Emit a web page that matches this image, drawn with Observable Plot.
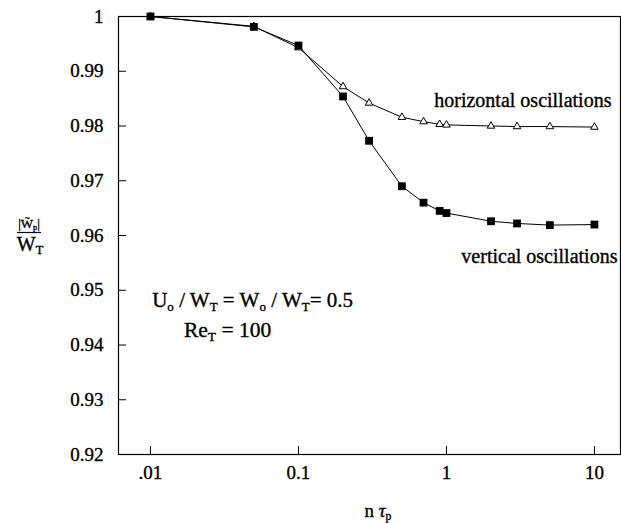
<!DOCTYPE html>
<html><head><meta charset="utf-8">
<script src="https://cdn.jsdelivr.net/npm/d3@7"></script>
<script src="https://cdn.jsdelivr.net/npm/@observablehq/plot@0.6"></script>
<style>body{margin:0;background:#fff} svg text{stroke:black;stroke-width:0.35px}</style>
</head><body><div id="chart"></div>
<script>
// ---- data ----
const nTau = [0.01, 0.05, 0.1, 0.2, 0.3, 0.5, 0.7, 0.9, 1, 2, 3, 5, 10];
const horizontal = [1.0, 0.9982, 0.9943, 0.9872, 0.9842, 0.9816, 0.9808, 0.9803, 0.9802, 0.9800, 0.9799, 0.9799, 0.9798];
const vertical = [1.0, 0.9981, 0.9947, 0.9854, 0.9773, 0.9690, 0.9660, 0.9645, 0.9641, 0.9626, 0.9622, 0.9619, 0.9620];
const xTicks = [0.01, 0.1, 1, 10];
const xTickLabels = [".01", "0.1", "1", "10"];
const yTicks = [0.92, 0.93, 0.94, 0.95, 0.96, 0.97, 0.98, 0.99, 1];
const yTickLabels = ["0.92", "0.93", "0.94", "0.95", "0.96", "0.97", "0.98", "0.99", "1"];
const seriesLabels = ["horizontal oscillations", "vertical oscillations"];

const hRows = nTau.map((x, i) => ({x, y: horizontal[i]}));
const vRows = nTau.map((x, i) => ({x, y: vertical[i]}));
const font = '"Liberation Serif", "Times New Roman", serif';

const plot = Plot.plot({
  width: 621, height: 523,
  marginLeft: 118, marginRight: 1, marginTop: 16, marginBottom: 69,
  style: {fontFamily: font, fontSize: "19px", background: "white", color: "black"},
  x: {type: "log", domain: [0.00608, 15]},
  y: {domain: [0.92, 1]},
  marks: [
    Plot.frame({stroke: "black", strokeWidth: 1.2}),
    Plot.axisY({ticks: yTicks, tickFormat: d => yTickLabels[yTicks.indexOf(d)], tickSize: 8, dx: 8, tickPadding: 15, label: null, fontSize: 19}),
    Plot.axisX({ticks: xTicks, tickFormat: d => xTickLabels[xTicks.indexOf(d)], tickSize: 8, dy: -8, tickPadding: 11, label: null, fontSize: 19}),
    Plot.line(hRows, {x: "x", y: "y", stroke: "black", strokeWidth: 1}),
    Plot.line(vRows, {x: "x", y: "y", stroke: "black", strokeWidth: 1}),
    Plot.dot(hRows, {x: "x", y: "y", symbol: "triangle", r: 2.8, stroke: "black", strokeWidth: 1, fill: "white"}),
    Plot.dot(vRows, {x: "x", y: "y", symbol: "square", r: 4.4, fill: "black", stroke: "none"}),
    Plot.text([seriesLabels[0]], {x: 13.03, y: 0.98455, text: d => d, textAnchor: "end", fontSize: 20}),
    Plot.text([seriesLabels[1]], {x: 14.3, y: 0.95606, text: d => d, textAnchor: "end", fontSize: 20})
  ]
});
document.getElementById("chart").appendChild(plot);

// ---- annotations with subscripts, placed through the plot's scales ----
const sx = plot.scale("x"), sy = plot.scale("y");
const svg = d3.select(plot);
function richText(x, y, parts, size, anchor = "start", subShift = 4) {
  const t = svg.append("text").attr("x", x).attr("y", y)
    .attr("font-family", font).attr("font-size", size).attr("fill", "black")
    .attr("text-anchor", anchor);
  let shift = 0;
  for (const [s, kind] of parts) {
    const ts = t.append("tspan").text(s).style("white-space", "pre");
    const target = kind === "sub" ? subShift : 0;
    if (target !== shift) { ts.attr("dy", target - shift); shift = target; }
    if (kind === "sub") ts.attr("font-size", size * 0.62);
    if (kind === "it") ts.attr("font-style", "italic");
  }
  return t;
}
richText(sx.apply(0.01035), sy.apply(0.94686), [
  ["U"], ["o", "sub"], [" / W"], ["T", "sub"], [" = W"], ["o", "sub"], [" / W"], ["T", "sub"], ["= 0.5"]
], 21);
richText(sx.apply(0.01697), sy.apply(0.94138), [["Re"], ["T", "sub"], [" = 100"]], 21.5);

// x-axis label
const xMid = (sx.range[0] + sx.range[1]) / 2;
richText(xMid + 9, 517, [["n "], ["τ", "it"], ["p", "sub"]], 19, "middle", 3);

// y-axis label: |W̃p| / WT fraction
richText(29, 228, [["|W\u0303"], ["p", "sub"], ["|"]], 13, "middle", 1.5);
svg.append("line").attr("x1", 17).attr("x2", 41).attr("y1", 232.5).attr("y2", 232.5)
  .attr("stroke", "black").attr("stroke-width", 1.2);
richText(30, 251, [["W"], ["T", "sub"]], 20, "middle", 3);
</script>
</body></html>
